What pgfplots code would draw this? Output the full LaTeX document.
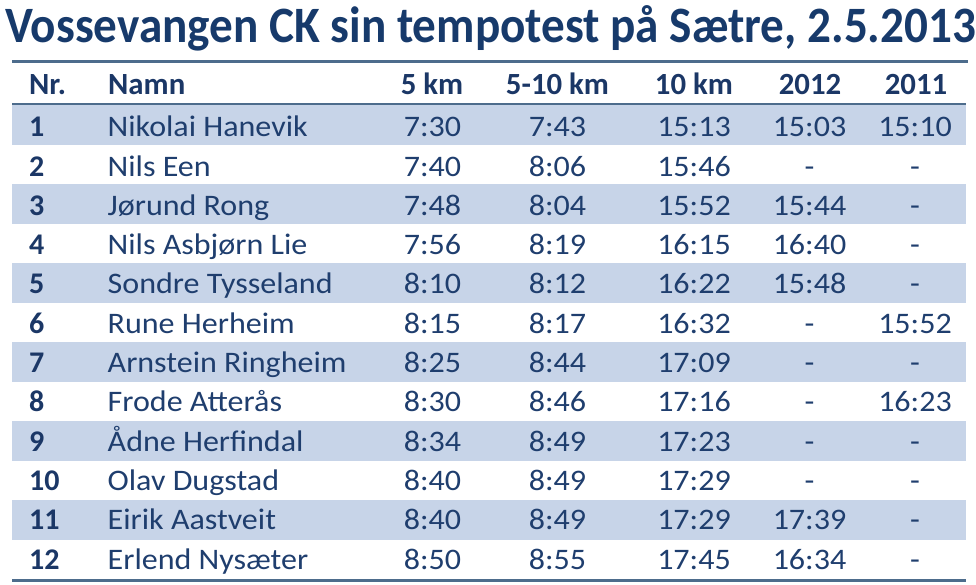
\documentclass[border=0pt]{standalone}
\usepackage{pgfplots}
\usepackage{pgfplotstable}
\pgfplotsset{compat=1.18}
\usepackage{fontspec}
\setmainfont{Carlito}
\newfontfamily\rowfam[FakeStretch=1.075]{Carlito}
\newfontfamily\titlefam[FakeStretch=0.925]{Carlito}
\definecolor{titlec}{HTML}{173A6B}
\definecolor{textc}{HTML}{1F3E6E}
\definecolor{headc}{HTML}{1B3766}
\definecolor{shade}{HTML}{C7D4E8}
\definecolor{linec}{HTML}{4D6C8C}
\pgfplotstableread[col sep=comma]{
y,nr,name,a,b,c,d,e
136.7,1,Nikolai Hanevik,7:30,7:43,15:13,15:03,15:10
176.0,2,Nils Een,7:40,8:06,15:46,-,-
215.3,3,Jørund Rong,7:48,8:04,15:52,15:44,-
254.6,4,Nils Asbjørn Lie,7:56,8:19,16:15,16:40,-
293.9,5,Sondre Tysseland,8:10,8:12,16:22,15:48,-
333.2,6,Rune Herheim,8:15,8:17,16:32,-,15:52
372.5,7,Arnstein Ringheim,8:25,8:44,17:09,-,-
411.8,8,Frode Atterås,8:30,8:46,17:16,-,16:23
451.1,9,Ådne Herfindal,8:34,8:49,17:23,-,-
490.4,10,Olav Dugstad,8:40,8:49,17:29,-,-
529.7,11,Eirik Aastveit,8:40,8:49,17:29,17:39,-
569.0,12,Erlend Nysæter,8:50,8:55,17:45,16:34,-
}\results
\newcommand{\rowfont}{\rowfam\fontsize{29.8}{36}\selectfont}
\newcommand{\nrfont}{\fontsize{30}{36}\selectfont\bfseries}
\newcommand{\headfont}{\fontsize{30.8}{36}\selectfont\bfseries}
\begin{document}
\begin{tikzpicture}
\begin{axis}[
  scale only axis, width=976pt, height=584pt,
  xmin=0, xmax=976, ymin=0, ymax=584, y dir=reverse,
  hide axis, clip=false,
  every axis plot/.append style={draw=none, mark=none},
  textcol/.style={nodes near coords={\pgfplotspointmeta}, point meta=explicit symbolic,
    nodes near coords style={inner sep=0pt, anchor=base, font=\rowfont, text=textc}},
]
% shaded rows
\addplot[fill=shade] coordinates {(12,105.3) (966,105.3) (966,144.6) (12,144.6)} -- cycle;
\addplot[fill=shade] coordinates {(12,184.1) (966,184.1) (966,223.5) (12,223.5)} -- cycle;
\addplot[fill=shade] coordinates {(12,263.1) (966,263.1) (966,302.5) (12,302.5)} -- cycle;
\addplot[fill=shade] coordinates {(12,342.1) (966,342.1) (966,381.5) (12,381.5)} -- cycle;
\addplot[fill=shade] coordinates {(12,421.1) (966,421.1) (966,460.5) (12,460.5)} -- cycle;
\addplot[fill=shade] coordinates {(12,500.1) (966,500.1) (966,539.5) (12,539.5)} -- cycle;
% rules
\addplot[draw=linec, line width=2.2pt] coordinates {(12,61.5) (968,61.5)};
\addplot[draw=linec, line width=2pt] coordinates {(12,104.3) (966,104.3)};
\addplot[draw=linec, line width=3pt] coordinates {(12,580.7) (966,580.7)};
% columns
\addplot[nodes near coords={\pgfplotspointmeta}, point meta=explicit symbolic,
  nodes near coords style={inner sep=0pt, anchor=base west, font=\nrfont, text=headc}]
  table[x expr=29, y=y, meta=nr] {\results};
\addplot[nodes near coords={\pgfplotspointmeta}, point meta=explicit symbolic,
  nodes near coords style={inner sep=0pt, anchor=base west, font=\rowfont, text=textc}]
  table[x expr=107.5, y=y, meta=name] {\results};
\addplot[textcol] table[x expr=432.5, y=y, meta=a] {\results};
\addplot[textcol] table[x expr=557.5, y=y, meta=b] {\results};
\addplot[textcol] table[x expr=694, y=y, meta=c] {\results};
\addplot[textcol] table[x expr=809.5, y=y, meta=d] {\results};
\addplot[textcol] table[x expr=915, y=y, meta=e] {\results};
% header
\node[inner sep=0pt, anchor=base west, font=\headfont, text=headc] at (axis cs:29,94) {Nr.};
\node[inner sep=0pt, anchor=base west, font=\headfont, text=headc] at (axis cs:108,94) {Namn};
\node[inner sep=0pt, anchor=base, font=\headfont, text=headc] at (axis cs:432,94) {5 km};
\node[inner sep=0pt, anchor=base, font=\headfont, text=headc] at (axis cs:557.5,94) {5-10 km};
\node[inner sep=0pt, anchor=base, font=\headfont, text=headc] at (axis cs:694,94) {10 km};
\node[inner sep=0pt, anchor=base, font=\headfont, text=headc] at (axis cs:810,94) {2012};
\node[inner sep=0pt, anchor=base, font=\headfont, text=headc] at (axis cs:916,94) {2011};
% title
\node[inner sep=0pt, anchor=base west, font=\titlefam\fontsize{51}{60}\selectfont\bfseries, text=titlec] at (axis cs:5,42) {Vossevangen CK sin tempotest på Sætre, 2.5.2013};
\end{axis}
\pgfresetboundingbox
\path (current axis.south west) rectangle (current axis.north east);
\end{tikzpicture}
\end{document}
